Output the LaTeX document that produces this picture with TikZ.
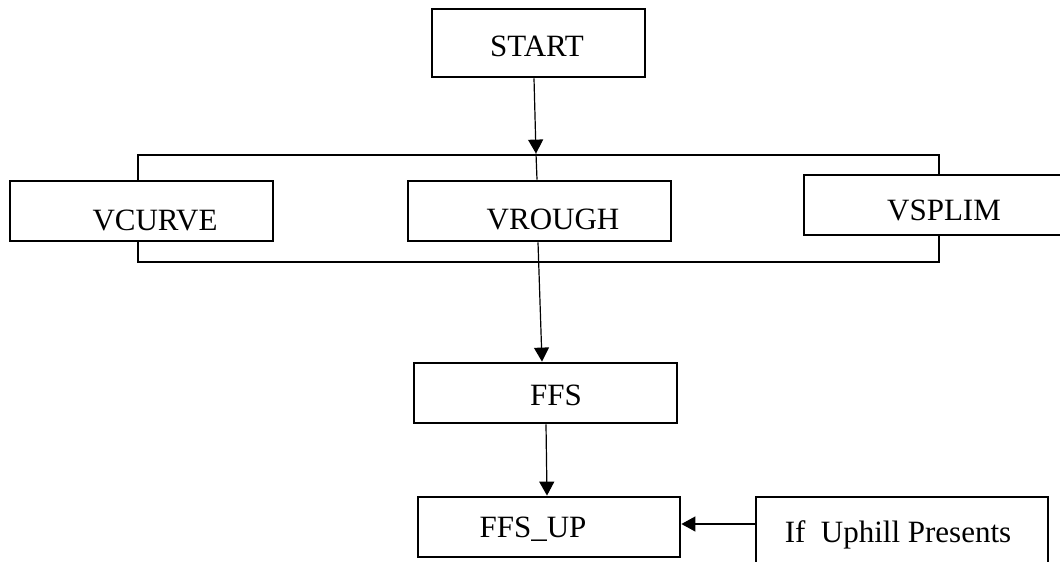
\documentclass[tikz,border=0pt]{standalone}
\usepackage{fontspec}
\setmainfont{Liberation Serif}
\usetikzlibrary{arrows.meta}

\tikzset{
  caja/.style={draw, line width=2.8pt, fill=white, inner sep=0pt, minimum height=60pt},
  txt/.style={font=\fontsize{31}{36}\selectfont, text height=21pt, text depth=0pt, inner sep=0pt},
  flecha/.style={line width=1.2pt, -{Triangle[length=14pt,width=15pt]}},
  linea/.style={line width=1.2pt}
}

\begin{document}
\begin{tikzpicture}[x=1pt,y=-1pt]
\clip (0,0) rectangle (1060,562);

%% el rectangulo grande detras de las tres cajas %%
\node[draw, line width=2.8pt, minimum width=801pt, minimum height=107pt, inner sep=0pt] (grupo) at (538.5,208.5) {};

%% cajas %%%%%%%%%%%%%%%%%%%%%%%%%%%%%%%%%%%%%%%%%%%
\node[caja, minimum width=213pt, minimum height=68pt, label={[txt,xshift=-1.5pt,yshift=-2.5pt]center:START}] (start) at (538.5,43) {};
\node[caja, minimum width=263pt, label={[txt,xshift=13.5pt,yshift=-9pt]center:VCURVE}] (vcurve) at (141.5,211) {};
\node[caja, minimum width=263pt, label={[txt,xshift=13.5pt,yshift=-8pt]center:VROUGH}] (vrough) at (539.5,211) {};
\node[caja, minimum width=280pt, label={[txt,yshift=-5pt]center:VSPLIM}] (vsplim) at (944,205) {};
\node[caja, minimum width=263pt, label={[txt,xshift=10.5pt,yshift=-2pt]center:FFS}] (ffs) at (545.5,393) {};
\node[caja, minimum width=262pt, label={[txt,xshift=-16pt]center:FFS\_UP}] (ffsup) at (549,527) {};
\node[caja, minimum width=292pt, minimum height=70pt, label={[txt,xshift=-4pt,yshift=0pt]center:If~~Uphill Presents}] (ifup) at (902,532) {};

%% flechas %%%%%%%%%%%%%%%%%%%%%%%%%%%%%%%%%%%%%%%%%
\draw[flecha] ([xshift=-4.5pt]start.south) -- ([xshift=-2.5pt]grupo.north);
\draw[linea] ([xshift=-2.5pt]grupo.north) -- ([xshift=-2.5pt]vrough.north);
\draw[flecha] ([xshift=-1.5pt]vrough.south) -- ([xshift=-3.5pt]ffs.north);
\draw[flecha] ([xshift=0.5pt]ffs.south) -- ([xshift=-2pt]ffsup.north);
\draw[flecha] ([yshift=8pt]ifup.west) -- ([yshift=3pt]ffsup.east);
%%%%%%%%%%%%%%%%%%%%%%%%%%%%%%%%%%%%%%%%%%%%%%%%%%%%%
\end{tikzpicture}
\end{document}
